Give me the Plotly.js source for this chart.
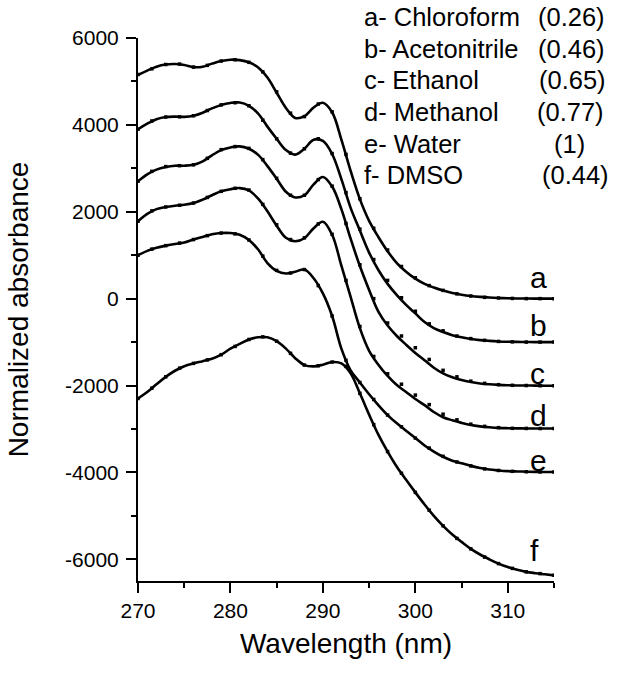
<!DOCTYPE html>
<html>
<head>
<meta charset="utf-8">
<script src="https://cdn.plot.ly/plotly-3.0.1.min.js"></script>
<style>html,body{margin:0;padding:0;background:#fff;}#chart{width:618px;height:674px;}</style>
</head>
<body>
<div id="chart"></div>
<script>
// ---- data ----
const wavelength = [270,271,272,273,274,275,276,277,278,279,280,281,282,283,284,285,286,287,288,289,290,291,292,293,294,295,296,297,298,299,300,301,302,303,304,305,306,307,308,309,310,311,312,313,314,315];

const lineA = [5150,5250,5340,5390,5400,5380,5330,5340,5410,5470,5500,5490,5440,5320,5090,4740,4390,4160,4200,4400,4510,4290,3660,2940,2290,1790,1420,1090,820,620,460,340,255,185,130,90,60,40,25,15,8,4,2,1,0,0];
const lineB = [3900,4030,4130,4180,4190,4185,4210,4280,4380,4460,4505,4515,4440,4260,3960,3680,3420,3315,3450,3660,3630,3330,2750,2090,1570,1060,660,340,80,-145,-340,-540,-680,-770,-840,-890,-930,-955,-972,-985,-992,-996,-998,-1000,-1000,-1000];
const lineC = [2700,2860,2970,3030,3060,3060,3080,3160,3300,3420,3480,3505,3450,3310,3050,2760,2460,2330,2380,2630,2800,2580,2060,1380,750,200,-300,-620,-860,-1060,-1250,-1420,-1590,-1720,-1810,-1875,-1920,-1952,-1972,-1985,-1993,-1998,-2000,-2002,-2004,-2005];
const lineD = [1780,1950,2060,2110,2140,2160,2200,2280,2380,2470,2520,2545,2490,2300,2010,1680,1400,1320,1390,1620,1770,1470,760,40,-680,-1200,-1520,-1780,-1990,-2150,-2310,-2450,-2610,-2730,-2800,-2860,-2910,-2940,-2960,-2975,-2982,-2986,-2988,-2990,-2990,-2990];
const lineE = [1000,1100,1170,1220,1260,1290,1360,1420,1480,1510,1510,1470,1350,1130,820,640,580,620,670,470,120,-400,-1150,-1650,-1930,-2200,-2450,-2680,-2870,-3040,-3210,-3380,-3520,-3640,-3730,-3790,-3850,-3900,-3935,-3955,-3970,-3978,-3984,-3988,-3990,-3990];
const lineF = [-2300,-2150,-1970,-1800,-1660,-1555,-1490,-1440,-1385,-1290,-1150,-1040,-940,-890,-890,-980,-1150,-1370,-1530,-1560,-1520,-1460,-1490,-1720,-2180,-2670,-3130,-3520,-3870,-4170,-4460,-4740,-5000,-5230,-5430,-5600,-5760,-5890,-6000,-6100,-6180,-6240,-6290,-6320,-6345,-6370];

const dotWavelength = [270,271.5,273,274.5,276,277.5,279,280.5,282,283.5,285,286.5,288,289.5,291,292.5,294,295.5,297,298.5,300,301.5,303,304.5,306,307.5,309,310.5,312,313.5,315];
const dotA = [5160,5290,5390,5400,5330,5370,5470,5500,5440,5220,4760,4270,4190,4480,4300,3320,2300,1620,1120,740,480,300,190,110,60,30,15,5,0,0,0];
const dotB = [3900,4090,4180,4185,4210,4330,4460,4510,4440,4110,3680,3350,3450,3680,3340,2440,1600,900,420,20,-290,-580,-740,-860,-920,-960,-985,-995,-1000,-1000,-1000];
const dotC = [2700,2930,3040,3060,3080,3230,3430,3500,3460,3200,2770,2380,2380,2740,2590,1730,780,0,-560,-860,-1130,-1400,-1650,-1800,-1900,-1950,-1980,-1995,-2000,-2005,-2005];
const dotD = [1780,2020,2110,2150,2200,2330,2470,2540,2500,2170,1700,1360,1400,1720,1480,420,-640,-1330,-1730,-1970,-2220,-2440,-2660,-2790,-2890,-2940,-2970,-2985,-2988,-2990,-2990];
const dotE = [1000,1140,1220,1280,1360,1450,1510,1490,1350,980,650,590,670,300,-400,-1420,-1930,-2320,-2680,-2950,-3210,-3440,-3630,-3760,-3850,-3920,-3955,-3975,-3985,-3990,-3990];
const dotF = [-2300,-2060,-1800,-1600,-1490,-1410,-1290,-1100,-940,-880,-980,-1260,-1530,-1545,-1460,-1560,-2180,-2900,-3520,-4020,-4460,-4870,-5230,-5520,-5760,-5950,-6100,-6210,-6290,-6330,-6370];

const curveLabels = ['a','b','c','d','e','f'];
const legendNames = ['a- Chloroform','b- Acetonitrile','c- Ethanol','d- Methanol','e- Water','f- DMSO'];
const legendValues = ['(0.26)','(0.46)','(0.65)','(0.77)','(1)','(0.44)'];

const xTickVals = [270,280,290,300,310];
const xTickText = ['270','280','290','300','310'];
const xMinorVals = [275,285,295,305,315];
const yTickVals = [-6000,-4000,-2000,0,2000,4000,6000];
const yTickText = ['-6000','-4000','-2000','0','2000','4000','6000'];
const yMinorVals = [-5000,-3000,-1000,1000,3000,5000];

// ---- drawing ----
const FONT = 'Liberation Sans, Arial, Helvetica, sans-serif';
const lines = [lineA,lineB,lineC,lineD,lineE,lineF];
const dots = [dotA,dotB,dotC,dotD,dotE,dotF];
const traces = [];
lines.forEach((ys, i) => {
  traces.push({x: wavelength, y: ys, mode: 'lines', type: 'scatter',
    line: {color: '#000', width: 2.6, shape: 'spline', smoothing: 1},
    name: curveLabels[i], showlegend: false, hoverinfo: 'skip'});
});
dots.forEach((ys, i) => {
  traces.push({x: dotWavelength, y: ys, mode: 'markers', type: 'scatter',
    marker: {color: '#000', size: 3.5, symbol: 'square'},
    name: curveLabels[i] + ' fit', showlegend: false, hoverinfo: 'skip'});
});

// plot area in pixels
const L = 138, R = 554, T = 38, B = 581;
const px2x = p => (p - L) / (R - L);
const px2y = p => (B - p) / (B - T);

const annotations = [];
const legendBaselines = [26.7, 58.3, 89.9, 121.5, 153.1, 184.7];
const legendValueLeft = [535.5, 535.5, 536.5, 535, 551.5, 540];
legendNames.forEach((t, i) => {
  annotations.push({xref: 'paper', yref: 'paper', x: px2x(361.5), y: px2y(legendBaselines[i] + 6.4),
    xanchor: 'left', yanchor: 'bottom', text: t, showarrow: false,
    font: {family: FONT, size: 25.5, color: '#000'}});
  annotations.push({xref: 'paper', yref: 'paper', x: px2x(legendValueLeft[i]), y: px2y(legendBaselines[i] + 6.4),
    xanchor: 'left', yanchor: 'bottom', text: legendValues[i], showarrow: false,
    font: {family: FONT, size: 25.5, color: '#000'}});
});
const labelBaselines = [288.3, 336.7, 385, 426.7, 471.7, 561.7];
curveLabels.forEach((t, i) => {
  annotations.push({xref: 'paper', yref: 'paper', x: px2x(527.5), y: px2y(labelBaselines[i] + 7.3),
    xanchor: 'left', yanchor: 'bottom', text: t, showarrow: false,
    font: {family: FONT, size: 30, color: '#000'}});
});

const axisCommon = {
  showgrid: false, zeroline: false, showline: true, linecolor: '#000', linewidth: 2,
  ticks: 'outside', ticklen: 10, tickwidth: 2, tickcolor: '#000',
  tickfont: {family: FONT, size: 21, color: '#000'}, mirror: false
};

const layout = {
  width: 618, height: 674,
  margin: {l: L, r: 618 - R, t: T, b: 674 - B, pad: 0},
  paper_bgcolor: '#fff', plot_bgcolor: '#fff',
  font: {family: FONT, color: '#000'},
  showlegend: false,
  xaxis: Object.assign({}, axisCommon, {
    range: [270, 315], tickmode: 'array', tickvals: xTickVals, ticktext: xTickText,
    minor: {tickmode: 'array', tickvals: xMinorVals, ticks: 'outside', ticklen: 5, tickwidth: 2, tickcolor: '#000', showgrid: false},
    title: {text: 'Wavelength (nm)', font: {family: FONT, size: 28, color: '#000'}, standoff: 12}
  }),
  yaxis: Object.assign({}, axisCommon, {
    range: [-6500, 6000], tickmode: 'array', tickvals: yTickVals, ticktext: yTickText,
    ticklabelstandoff: 3,
    minor: {tickmode: 'array', tickvals: yMinorVals, ticks: 'outside', ticklen: 5, tickwidth: 2, tickcolor: '#000', showgrid: false},
    title: {text: 'Normalized absorbance', font: {family: FONT, size: 28, color: '#000'}, standoff: 28}
  }),
  annotations: annotations
};

Plotly.newPlot('chart', traces, layout, {staticPlot: true, displayModeBar: false});
</script>
</body>
</html>
